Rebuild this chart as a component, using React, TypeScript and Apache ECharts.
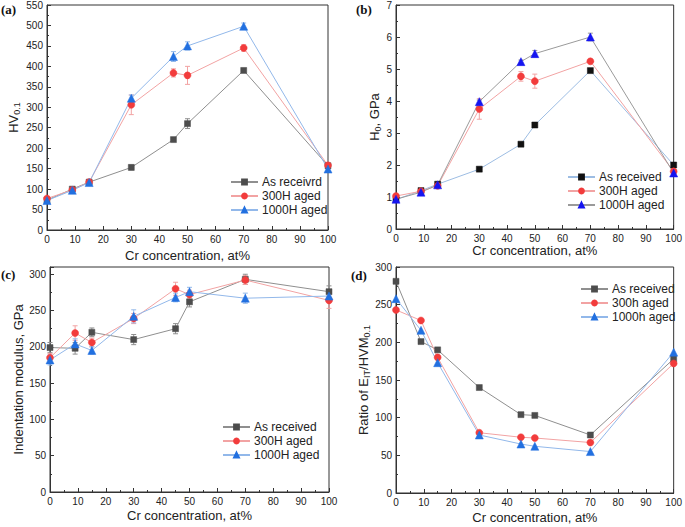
import React, { useEffect, useRef } from "react";
import * as echarts from "echarts";

const crConc = [0, 9, 15, 30, 45, 50, 70, 100];

// (a) HV0.1
const hvAsReceived = [73, 100, 117, 153, 221, 260, 390, 157];
const hvAsReceivedErr = [3, 4, 3, 6, 4, 12, 5, 4];
const hv300 = [77, 98, 117, 306, 384, 378, 445, 158];
const hv300Err = [4, 4, 3, 24, 10, 22, 8, 5];
const hv1000 = [72, 97, 116, 322, 424, 450, 498, 149];
const hv1000Err = [4, 4, 3, 8, 12, 10, 8, 5];

// (b) H0, GPa
const h0AsReceived = [0.92, 1.2, 1.4, 1.87, 2.65, 3.25, 4.95, 2.0];
const h0AsReceivedErr = [0.03, 0.03, 0.03, 0.03, 0.05, 0.08, 0.05, 0.05];
const h0300 = [1.03, 1.18, 1.35, 3.75, 4.77, 4.62, 5.24, 1.8];
const h0300Err = [0.05, 0.05, 0.05, 0.32, 0.15, 0.22, 0.07, 0.15];
const h01000 = [0.93, 1.15, 1.38, 3.98, 5.23, 5.48, 6.0, 1.75];
const h01000Err = [0.05, 0.05, 0.03, 0.05, 0.05, 0.1, 0.12, 0.1];

// (c) Indentation modulus, GPa
const eAsReceived = [199, 198, 220, 210, 225, 262, 293, 276];
const eAsReceivedErr = [7, 8, 6, 7, 7, 7, 7, 8];
const e300 = [185, 219, 206, 239, 280, 272, 292, 264];
const e300Err = [6, 10, 6, 7, 9, 6, 6, 11];
const e1000 = [182, 204, 195, 242, 268, 276, 267, 270];
const e1000Err = [7, 7, 5, 9, 6, 6, 7, 5];

// (d) Ratio of EIT/HVM0.1
const rAsReceived = [281, 201, 190, 140, 104, 103, 77, 178];
const r300 = [243, 229, 180, 80, 74, 73, 67, 172];
const r1000 = [258, 216, 173, 77, 65, 62, 55, 187];

const legendA = ["As receivrd", "300H aged", "1000H aged"];
const legendB = ["As received", "300H aged", "1000H aged"];
const legendC = ["As received", "300H aged", "1000H aged"];
const legendD = ["As received", "300h aged", "1000h aged"];

const FONT = "'Liberation Sans', Arial, sans-serif";

const gray = { fill: "#4d4d4d", line: "#8f8f8f" };
const red = { fill: "#f23c3c", line: "#f2a3a3" };
const blue = { fill: "#2270e0", line: "#92b8ea" };

function pairs(vals: number[], errs?: number[]) {
  return crConc.map((x, i) => (errs ? [x, vals[i], errs[i]] : [x, vals[i]]));
}

function lineSeries(id: string, gi: number, vals: number[], symbol: string, size: number, fill: string, line: string) {
  return {
    id,
    name: id,
    type: "line",
    xAxisIndex: gi,
    yAxisIndex: gi,
    data: pairs(vals),
    symbol,
    symbolSize: size,
    itemStyle: { color: fill, borderColor: fill, borderWidth: 0.5 },
    lineStyle: { color: line, width: 1 },
    z: 3,
  };
}

function errSeries(id: string, gi: number, vals: number[], errs: number[], color: string) {
  return {
    id,
    name: id,
    type: "custom",
    xAxisIndex: gi,
    yAxisIndex: gi,
    data: pairs(vals, errs),
    encode: { x: 0, y: 1 },
    z: 2,
    silent: true,
    renderItem: (params: any, api: any) => {
      const x = api.value(0);
      const y = api.value(1);
      const e = api.value(2);
      const top = api.coord([x, y + e]);
      const bot = api.coord([x, y - e]);
      const hw = 2.5;
      const style = { stroke: color, lineWidth: 1, fill: "none" };
      return {
        type: "group",
        children: [
          { type: "line", shape: { x1: top[0], y1: top[1], x2: bot[0], y2: bot[1] }, style },
          { type: "line", shape: { x1: top[0] - hw, y1: top[1], x2: top[0] + hw, y2: top[1] }, style },
          { type: "line", shape: { x1: bot[0] - hw, y1: bot[1], x2: bot[0] + hw, y2: bot[1] }, style },
        ],
      };
    },
  };
}

function xAxis(gi: number, gap: number) {
  return {
    gridIndex: gi,
    type: "value",
    min: 0,
    max: 100,
    interval: 10,
    name: "Cr concentration, at%",
    nameLocation: "middle",
    nameGap: gap,
    nameTextStyle: { fontFamily: FONT, fontSize: 13, color: "#222" },
    axisLine: { show: true, lineStyle: { color: "#333", width: 1 } },
    axisTick: { show: true, inside: true, length: 4, lineStyle: { color: "#333" } },
    minorTick: { show: true, splitNumber: 2, length: 2, lineStyle: { color: "#333" } },
    axisLabel: { fontFamily: FONT, fontSize: 10, color: "#222", margin: 4 },
    splitLine: { show: false },
    minorSplitLine: { show: false },
  };
}

function yAxis(gi: number, min: number, max: number, interval: number, name: string, gap: number, rich: any, hideMax = false) {
  return {
    gridIndex: gi,
    type: "value",
    min,
    max,
    interval,
    name,
    nameLocation: "middle",
    nameGap: gap,
    nameTextStyle: { fontFamily: FONT, fontSize: 13, color: "#222", rich },
    axisLine: { show: true, lineStyle: { color: "#333", width: 1 } },
    axisTick: { show: true, inside: true, length: 4, lineStyle: { color: "#333" } },
    minorTick: { show: true, splitNumber: 2, length: 2, lineStyle: { color: "#333" } },
    axisLabel: { fontFamily: FONT, fontSize: 10, color: "#222", margin: 4, showMaxLabel: !hideMax },
    splitLine: { show: false },
    minorSplitLine: { show: false },
  };
}

function legend(ids: string[], labels: string[], left: number, top: number) {
  const map: Record<string, string> = {};
  ids.forEach((id, i) => (map[id] = labels[i]));
  return {
    orient: "vertical",
    left,
    top,
    data: ids,
    formatter: (n: string) => map[n],
    itemWidth: 27,
    itemHeight: 6,
    itemGap: 2,
    selectedMode: false,
    textStyle: { fontFamily: FONT, fontSize: 12, color: "#222", padding: [0, 0, 0, -1] },
  };
}

const subRich = {
  m: { fontFamily: FONT, fontSize: 13, color: "#222" },
  s: { fontFamily: FONT, fontSize: 9, color: "#222", padding: [7, 0, 0, 0] },
};

export default function App() {
  const ref = useRef<HTMLDivElement>(null);
  useEffect(() => {
    if (!ref.current) return;
    const chart = echarts.init(ref.current, null, { renderer: "svg" });
    const gridStyle = { show: true, borderColor: "#333", borderWidth: 1, containLabel: false };
    const option: any = {
      animation: false,
      backgroundColor: "#fff",
      grid: [
        { ...gridStyle, left: 47, top: 4, width: 281, height: 226 },
        { ...gridStyle, left: 396, top: 4, width: 282, height: 225 },
        { ...gridStyle, left: 50, top: 267, width: 279, height: 225 },
        { ...gridStyle, left: 396, top: 267, width: 282, height: 226 },
      ],
      xAxis: [xAxis(0, 19), xAxis(1, 12), xAxis(2, 17), xAxis(3, 18)],
      yAxis: [
        yAxis(0, 0, 550, 50, "{m|HV}{s|0.1}", 26, subRich),
        yAxis(1, 0, 7, 1, "{m|H}{s|0}{m|, GPa}", 14, subRich),
        yAxis(2, 0, 310, 50, "{m|Indentation modulus, GPa}", 22, subRich, true),
        yAxis(3, 0, 300, 50, "{m|Ratio of E}{s|IT}{m|/HVM}{s|0.1}", 23, subRich),
      ],
      legend: [
        legend(["a0", "a1", "a2"], legendA, 225, 171),
        legend(["b0", "b1", "b2"], legendB, 562, 166),
        legend(["c0", "c1", "c2"], legendC, 217, 416),
        legend(["d0", "d1", "d2"], legendD, 575, 278),
      ],
      graphic: [
        { type: "text", left: 1, top: 3, style: { text: "(a)", font: "bold 13px 'Liberation Serif', serif", fill: "#111" } },
        { type: "text", left: 356, top: 3, style: { text: "(b)", font: "bold 13px 'Liberation Serif', serif", fill: "#111" } },
        { type: "text", left: 1, top: 268, style: { text: "(c)", font: "bold 13px 'Liberation Serif', serif", fill: "#111" } },
        { type: "text", left: 351, top: 269, style: { text: "(d)", font: "bold 13px 'Liberation Serif', serif", fill: "#111" } },
      ],
      series: [
        // (a)
        errSeries("ea0", 0, hvAsReceived, hvAsReceivedErr, gray.line),
        errSeries("ea1", 0, hv300, hv300Err, red.line),
        errSeries("ea2", 0, hv1000, hv1000Err, blue.line),
        lineSeries("a0", 0, hvAsReceived, "rect", 6, gray.fill, gray.line),
        lineSeries("a1", 0, hv300, "circle", 7, red.fill, red.line),
        lineSeries("a2", 0, hv1000, "triangle", 8, blue.fill, blue.line),
        // (b)
        errSeries("eb0", 1, h0AsReceived, h0AsReceivedErr, "#9dbde3"),
        errSeries("eb1", 1, h0300, h0300Err, red.line),
        errSeries("eb2", 1, h01000, h01000Err, "#9a9a9a"),
        lineSeries("b0", 1, h0AsReceived, "rect", 6, "#111111", "#9dbde3"),
        lineSeries("b1", 1, h0300, "circle", 7, red.fill, red.line),
        lineSeries("b2", 1, h01000, "triangle", 8, "#1515f0", "#9a9a9a"),
        // (c)
        errSeries("ec0", 2, eAsReceived, eAsReceivedErr, gray.line),
        errSeries("ec1", 2, e300, e300Err, red.line),
        errSeries("ec2", 2, e1000, e1000Err, blue.line),
        lineSeries("c0", 2, eAsReceived, "rect", 6, gray.fill, gray.line),
        lineSeries("c1", 2, e300, "circle", 7, red.fill, red.line),
        lineSeries("c2", 2, e1000, "triangle", 8, blue.fill, blue.line),
        // (d)
        lineSeries("d0", 3, rAsReceived, "rect", 6, gray.fill, gray.line),
        lineSeries("d1", 3, r300, "circle", 7, red.fill, red.line),
        lineSeries("d2", 3, r1000, "triangle", 8, blue.fill, blue.line),
      ],
    };
    chart.setOption(option);
    return () => chart.dispose();
  }, []);
  return <div ref={ref} style={{ position: "absolute", left: 0, top: 0, width: 685, height: 527 }} />;
}
